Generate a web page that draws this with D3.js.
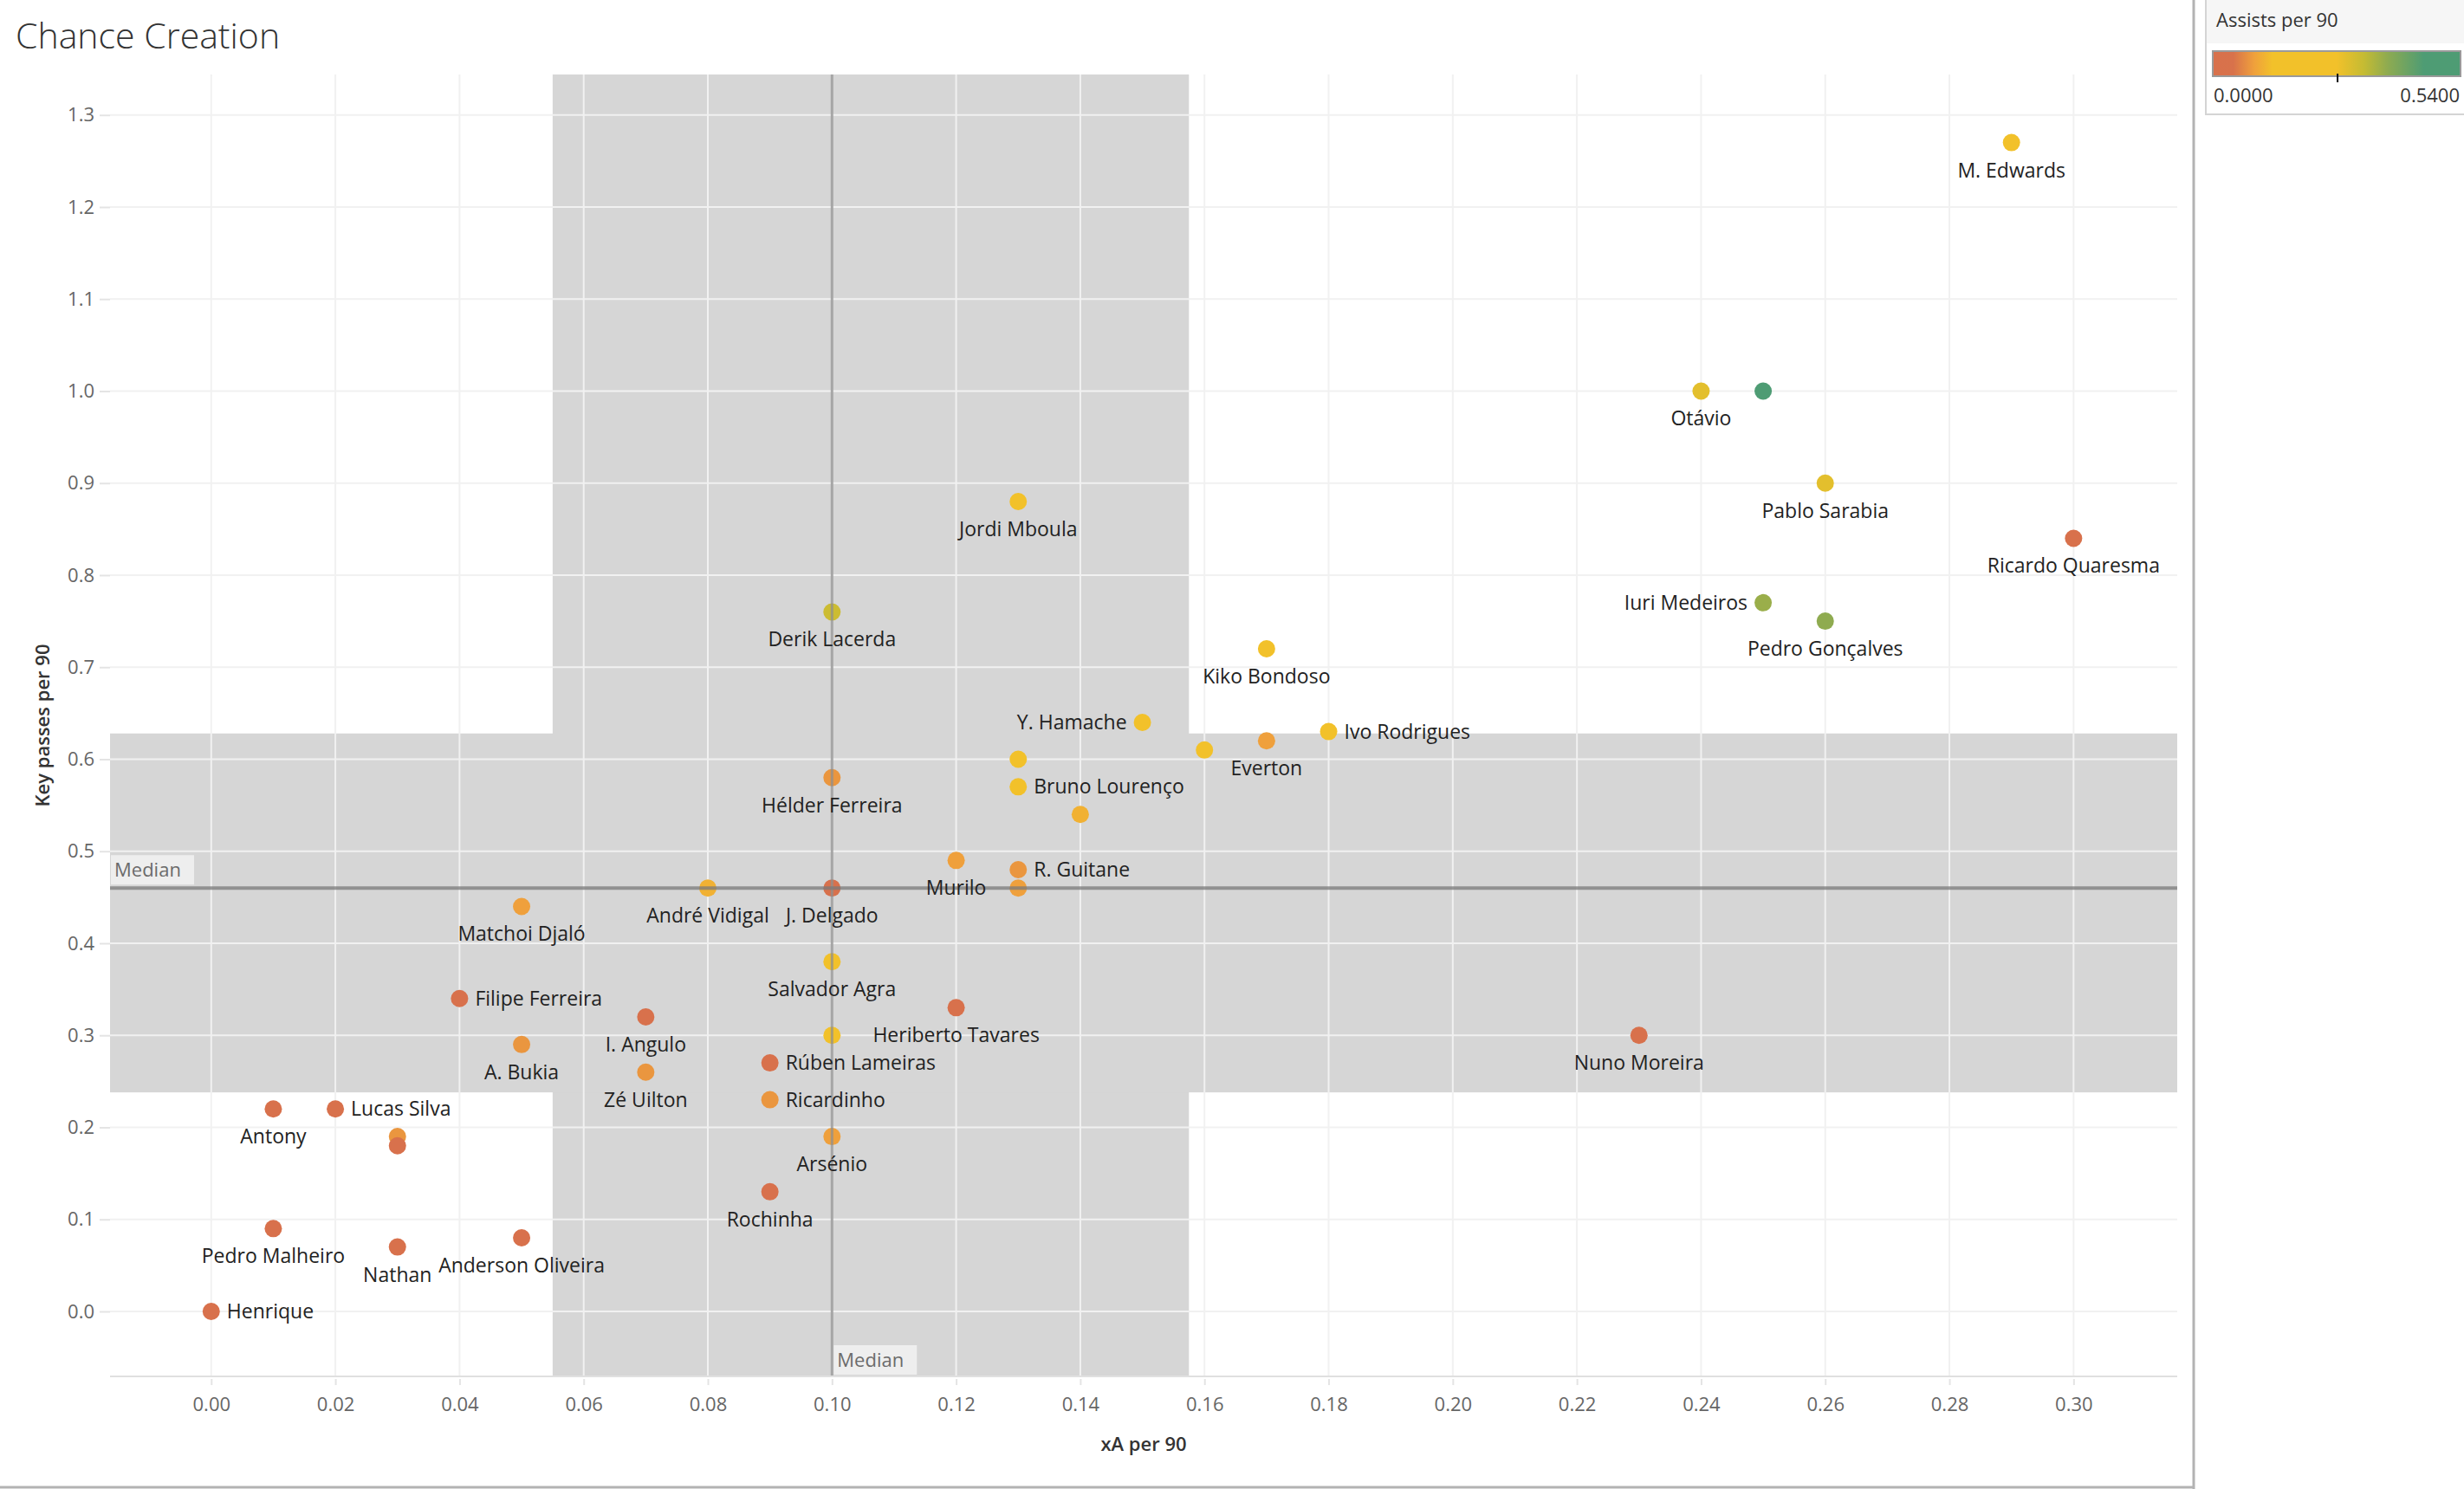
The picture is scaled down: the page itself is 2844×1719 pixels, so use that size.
<!DOCTYPE html>
<html>
<head>
<meta charset="utf-8">
<script src="https://cdn.jsdelivr.net/npm/d3@7"></script>
<style>
  html, body { margin: 0; padding: 0; background: #fff; }
  svg { display: block; }
  text { font-family: "Open Sans", "Noto Sans", sans-serif; }
</style>
</head>
<body>
<svg id="chart" width="2844" height="1719"></svg>
<script>
// ---------------- DATA ----------------
const players = ["M. Edwards","Otávio",null,"Pablo Sarabia","Ricardo Quaresma","Iuri Medeiros","Pedro Gonçalves",
  "Jordi Mboula","Derik Lacerda","Kiko Bondoso","Y. Hamache","Ivo Rodrigues","Everton",null,null,"Bruno Lourenço",null,
  "Hélder Ferreira","R. Guitane",null,"Murilo","André Vidigal","J. Delgado","Matchoi Djaló","Salvador Agra",
  "Filipe Ferreira","I. Angulo","Heriberto Tavares",null,"A. Bukia","Zé Uilton","Rúben Lameiras","Ricardinho",
  "Arsénio","Rochinha","Antony","Lucas Silva",null,null,"Pedro Malheiro","Nathan","Anderson Oliveira","Henrique","Nuno Moreira"];
const xAPer90 = [0.29,0.24,0.25,0.26,0.30,0.25,0.26,
  0.13,0.10,0.17,0.15,0.18,0.17,0.16,0.13,0.13,0.14,
  0.10,0.13,0.13,0.12,0.08,0.10,0.05,0.10,
  0.04,0.07,0.12,0.10,0.05,0.07,0.09,0.09,
  0.10,0.09,0.01,0.02,0.03,0.03,0.01,0.03,0.05,0.00,0.23];
const keyPassesPer90 = [1.27,1.00,1.00,0.90,0.84,0.77,0.75,
  0.88,0.76,0.72,0.64,0.63,0.62,0.61,0.60,0.57,0.54,
  0.58,0.48,0.46,0.49,0.46,0.46,0.44,0.38,
  0.34,0.32,0.33,0.30,0.29,0.26,0.27,0.23,
  0.19,0.13,0.22,0.22,0.19,0.18,0.09,0.07,0.08,0.00,0.30];
const assistsPer90 = [0.20,0.29,0.54,0.29,0.00,0.37,0.38,
  0.20,0.32,0.20,0.20,0.20,0.09,0.20,0.20,0.20,0.11,
  0.08,0.08,0.09,0.09,0.11,0.00,0.09,0.20,
  0.00,0.00,0.00,0.20,0.08,0.08,0.00,0.08,
  0.09,0.00,0.00,0.00,0.08,0.00,0.00,0.00,0.00,0.00,0.00];

const xTicks = [0.00,0.02,0.04,0.06,0.08,0.10,0.12,0.14,0.16,0.18,0.20,0.22,0.24,0.26,0.28,0.30];
const yTicks = [0.0,0.1,0.2,0.3,0.4,0.5,0.6,0.7,0.8,0.9,1.0,1.1,1.2,1.3];
const medianXA = 0.10, medianKP = 0.46;
const bandXA = [0.055, 0.1575];   // shaded vertical band (xA)
const bandKP = [0.238, 0.628];    // shaded horizontal band (key passes)
const assistsDomain = [0, 0.54];
const legendLabels = ["0.0000", "0.5400"];

// label placement (style)
const rightLabels = new Set(["Ivo Rodrigues","Bruno Lourenço","R. Guitane","Filipe Ferreira","Rúben Lameiras","Ricardinho","Lucas Silva","Henrique"]);
const leftLabels = new Set(["Iuri Medeiros","Y. Hamache"]);

// ---------------- LAYOUT ----------------
const svg = d3.select("#chart");
const plot = {left: 127, right: 2513, top: 86, bottom: 1589};

const x = d3.scaleLinear().domain([-0.0163, 0.3167]).range([plot.left, plot.right]);
const y = d3.scaleLinear().domain([-0.0706, 1.344]).range([plot.bottom, plot.top]);

const colorStops = [0, 0.045, 0.09, 0.13, 0.27, 0.33, 0.38, 0.46, 0.54];
const colorRange = ["#d8714c","#d8724b","#efa03c","#f2c12a","#f2c12a","#c4bb33","#8fab50","#4e9c74","#4e9c74"];
const color = d3.scaleLinear().domain(colorStops).range(colorRange).clamp(true);

// title
svg.append("text").attr("x", 18).attr("y", 56)
  .attr("font-size", 41).attr("font-weight", 300).attr("fill", "#333")
  .text("Chance Creation");

// frame lines
svg.append("line").attr("x1", 2532).attr("x2", 2532).attr("y1", 0).attr("y2", 1719)
  .attr("stroke", "#b3b3b3").attr("stroke-width", 3);
svg.append("line").attr("x1", 0).attr("x2", 2533).attr("y1", 1717).attr("y2", 1717)
  .attr("stroke", "#b3b3b3").attr("stroke-width", 3);

const g = svg.append("g");

// shaded bands
g.append("rect").attr("x", x(bandXA[0])).attr("width", x(bandXA[1]) - x(bandXA[0]))
  .attr("y", plot.top).attr("height", plot.bottom - plot.top).attr("fill", "#d6d6d6");
g.append("rect").attr("x", plot.left).attr("width", plot.right - plot.left)
  .attr("y", y(bandKP[1])).attr("height", y(bandKP[0]) - y(bandKP[1])).attr("fill", "#d6d6d6");

// gridlines
g.selectAll(".vgrid").data(xTicks).join("line")
  .attr("x1", d => x(d)).attr("x2", d => x(d)).attr("y1", plot.top).attr("y2", plot.bottom)
  .attr("stroke", "#f1f1f1").attr("stroke-width", 2);
g.selectAll(".hgrid").data(yTicks).join("line")
  .attr("x1", plot.left).attr("x2", plot.right).attr("y1", d => y(d)).attr("y2", d => y(d))
  .attr("stroke", "#f1f1f1").attr("stroke-width", 2);

// axes
const xAxis = d3.axisBottom(x).tickValues(xTicks).tickFormat(d3.format(".2f")).tickSize(10).tickPadding(14);
const yAxis = d3.axisLeft(y).tickValues(yTicks).tickFormat(d3.format(".1f")).tickSize(12).tickPadding(6);
const gx = svg.append("g").attr("transform", `translate(0,${plot.bottom})`).call(xAxis);
const gy = svg.append("g").attr("transform", `translate(${plot.left},0)`).call(yAxis);
[gx, gy].forEach(a => {
  a.select(".domain").remove();
  a.selectAll(".tick line").attr("stroke", "#e4e4e4").attr("stroke-width", 2);
  a.selectAll(".tick text").attr("font-size", 22).attr("fill", "#666")
    .attr("font-family", "'Open Sans', sans-serif");
});
gx.selectAll(".tick line").attr("y1", 3);
svg.append("line").attr("x1", plot.left).attr("x2", plot.right).attr("y1", plot.bottom).attr("y2", plot.bottom)
  .attr("stroke", "#e0e0e0").attr("stroke-width", 2);

// axis titles
svg.append("text").attr("x", 1320).attr("y", 1675).attr("text-anchor", "middle")
  .attr("font-size", 22).attr("font-weight", 600).attr("fill", "#333").text("xA per 90");
svg.append("text").attr("transform", `translate(57,${(plot.top + plot.bottom) / 2}) rotate(-90)`)
  .attr("text-anchor", "middle").attr("font-size", 22).attr("font-weight", 600).attr("fill", "#333")
  .text("Key passes per 90");

// data
const data = players.map((p, i) => ({name: p, xa: xAPer90[i], kp: keyPassesPer90[i], a: assistsPer90[i]}));

// points
g.selectAll(".pt").data(data).join("circle")
  .attr("cx", d => x(d.xa)).attr("cy", d => y(d.kp)).attr("r", 10)
  .attr("fill", d => color(d.a));

// median lines (on top of marks)
g.append("line").attr("x1", x(medianXA)).attr("x2", x(medianXA)).attr("y1", plot.top).attr("y2", plot.bottom)
  .attr("stroke", "#8f8f8f").attr("stroke-width", 3).attr("opacity", 0.75);
g.append("line").attr("x1", plot.left).attr("x2", plot.right).attr("y1", y(medianKP)).attr("y2", y(medianKP))
  .attr("stroke", "#7a7a7a").attr("stroke-width", 4).attr("opacity", 0.75);

// median labels
const mLeft = g.append("g");
mLeft.append("rect").attr("x", plot.left + 1).attr("y", y(medianKP) - 38).attr("width", 96).attr("height", 34)
  .attr("fill", "#f2f2f2").attr("opacity", 0.85);
mLeft.append("text").attr("x", plot.left + 5).attr("y", y(medianKP) - 13)
  .attr("font-size", 22).attr("fill", "#6b6b6b").text("Median");
const mBot = g.append("g");
mBot.append("rect").attr("x", x(medianXA) + 2).attr("y", plot.bottom - 36).attr("width", 96).attr("height", 34)
  .attr("fill", "#f2f2f2").attr("opacity", 0.85);
mBot.append("text").attr("x", x(medianXA) + 6).attr("y", plot.bottom - 11)
  .attr("font-size", 22).attr("fill", "#6b6b6b").text("Median");

// point labels
g.selectAll(".lbl").data(data.filter(d => d.name)).join("text")
  .attr("font-size", 23).attr("fill", "#222")
  .attr("x", d => rightLabels.has(d.name) ? x(d.xa) + 18 : leftLabels.has(d.name) ? x(d.xa) - 18 : x(d.xa))
  .attr("y", d => (rightLabels.has(d.name) || leftLabels.has(d.name)) ? y(d.kp) + 8 : y(d.kp) + 40)
  .attr("text-anchor", d => rightLabels.has(d.name) ? "start" : leftLabels.has(d.name) ? "end" : "middle")
  .text(d => d.name);

// legend
const lg = svg.append("g");
lg.append("rect").attr("x", 2546).attr("y", -2).attr("width", 300).attr("height", 134)
  .attr("fill", "#fff").attr("stroke", "#d4d4d4").attr("stroke-width", 2);
lg.append("rect").attr("x", 2547).attr("y", 0).attr("width", 297).attr("height", 50).attr("fill", "#f6f6f6");
lg.append("text").attr("x", 2558).attr("y", 31).attr("font-size", 22).attr("fill", "#333").text("Assists per 90");
const barX0 = 2554, barX1 = 2840, barY = 59, barH = 29;
const defs = svg.append("defs");
const grad = defs.append("linearGradient").attr("id", "lgGrad");
colorStops.forEach((s, i) => grad.append("stop")
  .attr("offset", (s - assistsDomain[0]) / (assistsDomain[1] - assistsDomain[0]))
  .attr("stop-color", colorRange[i]));
lg.append("rect").attr("x", barX0).attr("y", barY).attr("width", barX1 - barX0).attr("height", barH)
  .attr("fill", "url(#lgGrad)").attr("stroke", "#9a9a9a").attr("stroke-width", 2);
const lx = d3.scaleLinear().domain(assistsDomain).range([barX0, barX1]);
lg.append("line").attr("x1", lx(0.272)).attr("x2", lx(0.272)).attr("y1", barY + barH - 3).attr("y2", barY + barH + 7)
  .attr("stroke", "#111").attr("stroke-width", 2);
lg.append("text").attr("x", barX0 + 1).attr("y", 118).attr("font-size", 22).attr("fill", "#333").text(legendLabels[0]);
lg.append("text").attr("x", barX1 - 1).attr("y", 118).attr("text-anchor", "end").attr("font-size", 22).attr("fill", "#333").text(legendLabels[1]);
</script>
</body>
</html>
